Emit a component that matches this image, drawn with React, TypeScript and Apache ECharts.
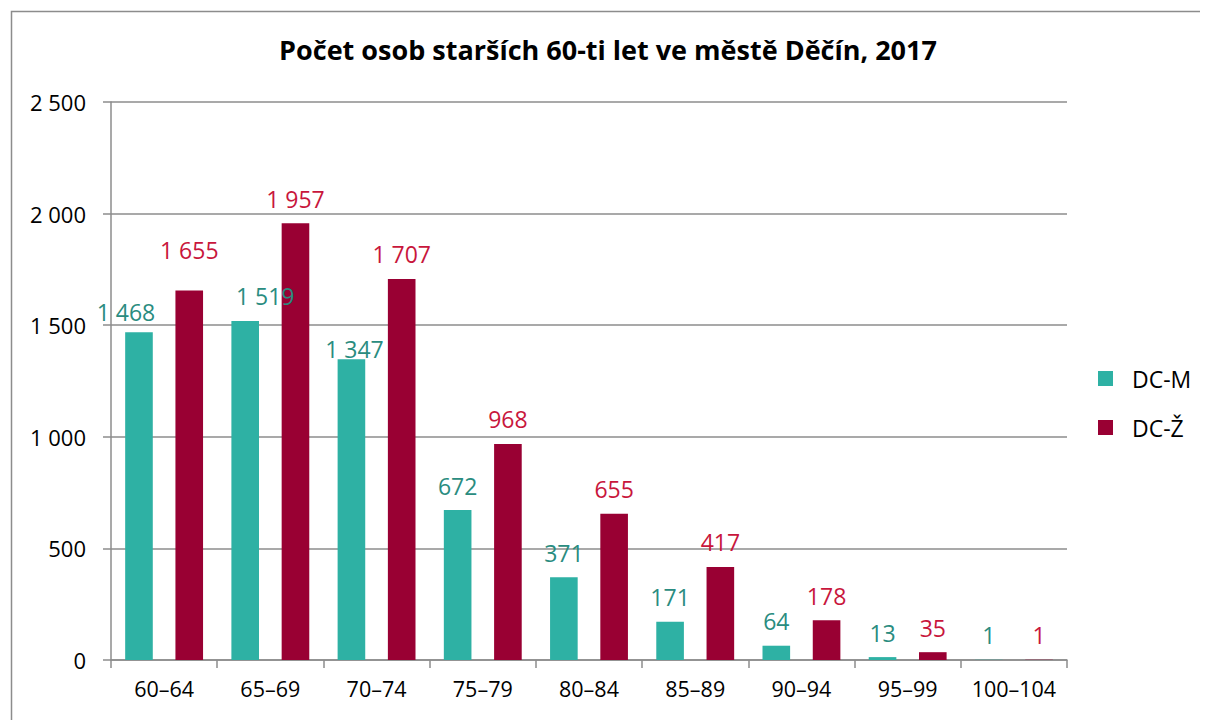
import React, { useEffect, useRef } from "react";
import * as echarts from "echarts";

const categories = ["60–64", "65–69", "70–74", "75–79", "80–84", "85–89", "90–94", "95–99", "100–104"];
const men = [1468, 1519, 1347, 672, 371, 171, 64, 13, 1];
const women = [1655, 1957, 1707, 968, 655, 417, 178, 35, 1];
const seriesNames = ["DC-M", "DC-Ž"];
const titleText = "Počet osob starších 60-ti let ve městě Děčín, 2017";

// manual label nudges (as in the source chart) [dx, dy]
const menLabelNudge: Record<number, [number, number]> = { 0: [-13, 4], 1: [20, 0], 2: [3, 14] };
const womenLabelNudge: Record<number, [number, number]> = { 0: [0, -16] };

const FONT = "'Open Sans', 'Noto Sans', sans-serif";
const fmt = (v: number) => String(v).replace(/\B(?=(\d{3})+(?!\d))/g, " ");

export default function App() {
  const ref = useRef<HTMLDivElement>(null);
  useEffect(() => {
    const chart = echarts.init(ref.current!, null, { renderer: "svg" });
    const build = (vals: number[], nudge: Record<number, [number, number]>) =>
      vals.map((v, i) => (nudge[i] ? { value: v, label: { offset: nudge[i] } } : v));
    const labelBase = {
      show: true,
      position: "top",
      distance: 13,
      fontFamily: FONT,
      fontSize: 23,
      formatter: (p: any) => fmt(p.value),
    };
    chart.setOption({
      animation: false,
      backgroundColor: "#fff",
      textStyle: { fontFamily: FONT },
      title: {
        text: titleText,
        left: "center",
        top: 23,
        textStyle: { fontFamily: FONT, fontSize: 27, fontWeight: "bold", color: "#000" },
      },
      graphic: [
        {
          type: "rect",
          left: 1,
          top: 1,
          shape: { x: 0, y: 0, width: 1400, height: 900 },
          style: { fill: "none", stroke: "#8c8c8c", lineWidth: 1.5 },
          silent: true,
        },
      ],
      legend: {
        orient: "vertical",
        left: 1085,
        top: 354,
        itemWidth: 15,
        itemHeight: 15,
        itemGap: 26,
        icon: "rect",
        textStyle: { fontFamily: FONT, fontSize: 23, color: "#000", padding: [0, 0, 0, 14] },
      },
      grid: { left: 103, right: 141, top: 94, bottom: 60 },
      xAxis: {
        type: "category",
        data: categories,
        axisLine: { lineStyle: { color: "#8c8c8c", width: 1.5 } },
        axisTick: { show: true, length: 8, lineStyle: { color: "#8c8c8c", width: 1.5 } },
        axisLabel: { fontFamily: FONT, fontSize: 21.5, color: "#000", margin: 17, interval: 0, hideOverlap: false },
      },
      yAxis: {
        type: "value",
        min: 0,
        max: 2500,
        interval: 500,
        axisLine: { show: true, lineStyle: { color: "#8c8c8c", width: 1.5 } },
        axisTick: { show: true, length: 8, lineStyle: { color: "#8c8c8c", width: 1.5 } },
        splitLine: { lineStyle: { color: "#8c8c8c", width: 1.5 } },
        axisLabel: { fontFamily: FONT, fontSize: 22, color: "#000", margin: 25, formatter: (v: number) => fmt(v) },
      },
      series: [
        {
          name: seriesNames[0],
          type: "bar",
          data: build(men, menLabelNudge),
          barWidth: "26%",
          barGap: "82%",
          itemStyle: { color: "#2eb1a4" },
          label: { ...labelBase, color: "#2a8c80" },
        },
        {
          name: seriesNames[1],
          type: "bar",
          data: build(women, womenLabelNudge),
          barWidth: "26%",
          itemStyle: { color: "#990033" },
          label: { ...labelBase, color: "#c8163c" },
        },
      ],
    });
    return () => chart.dispose();
  }, []);
  return <div ref={ref} style={{ width: 1200, height: 712 }} />;
}
